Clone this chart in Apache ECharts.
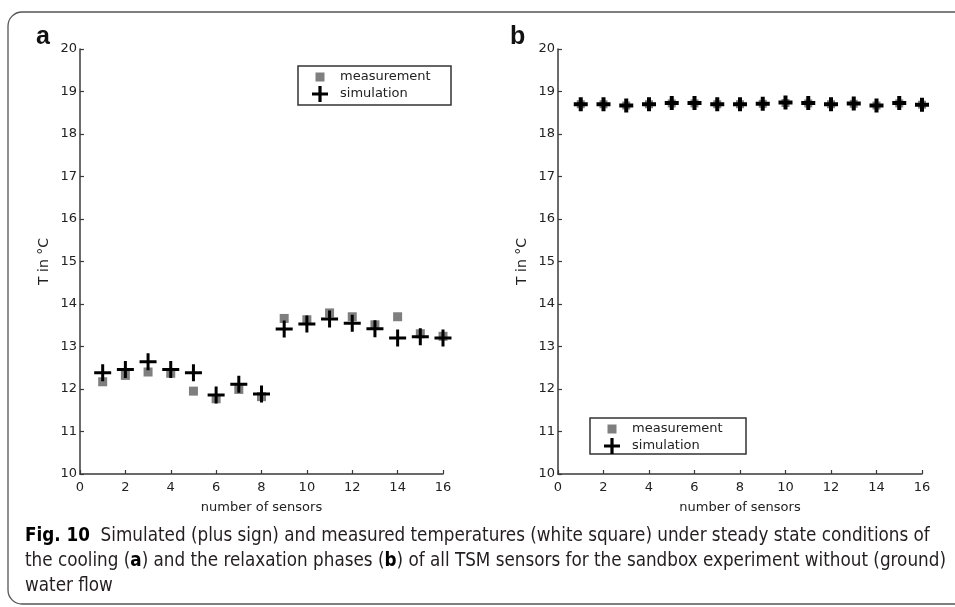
<!DOCTYPE html>
<html>
<head>
<meta charset="utf-8">
<script src="https://cdn.jsdelivr.net/npm/echarts@6/dist/echarts.min.js"></script>
<style>
  html, body { margin: 0; padding: 0; background: #fff; }
  #chart { width: 955px; height: 607px; }
</style>
</head>
<body>
<div id="chart"></div>
<script>
// Sensor numbers along the TSM chain
const sensors = [1, 2, 3, 4, 5, 6, 7, 8, 9, 10, 11, 12, 13, 14, 15, 16];

// (a) cooling phase, steady state temperatures in °C
const coolingMeasured = [12.17, 12.32, 12.40, 12.37, 11.95, 11.77, 11.99, 11.82,
                         13.66, 13.63, 13.79, 13.70, 13.51, 13.70, 13.30, 13.24];
const coolingSimulated = [12.38, 12.46, 12.64, 12.46, 12.38, 11.86, 12.11, 11.88,
                          13.41, 13.53, 13.65, 13.55, 13.42, 13.20, 13.23, 13.20];

// (b) relaxation phase, steady state temperatures in °C
const relaxMeasured = [18.70, 18.70, 18.67, 18.70, 18.72, 18.72, 18.70, 18.70,
                       18.71, 18.73, 18.72, 18.70, 18.71, 18.67, 18.72, 18.69];
const relaxSimulated = [18.70, 18.70, 18.67, 18.70, 18.73, 18.73, 18.70, 18.70,
                        18.71, 18.74, 18.73, 18.70, 18.72, 18.67, 18.73, 18.69];

const yTicks = [10, 11, 12, 13, 14, 15, 16, 17, 18, 19, 20];
const xTicks = [0, 2, 4, 6, 8, 10, 12, 14, 16];

const seriesNames = ['measurement', 'simulation'];
const yAxisTitle = 'T in °C';
const xAxisTitle = 'number of sensors';

const captionLines = [
  '{b|Fig. 10}  Simulated (plus sign) and measured temperatures (white square) under steady state conditions of',
  'the cooling ({b|a}) and the relaxation phases ({b|b}) of all TSM sensors for the sandbox experiment without (ground)',
  'water flow'
];

const PLUS_A = 'path://M7,0H10V7H17V10H10V17H7V10H0V7H7Z';
const PLUS_B = 'path://M5,0H9V5H14V9H9V14H5V9H0V5H5Z';
const AXIS_COLOR = '#3a3a3a';
const MEAS_COLOR = '#7f7f7f';
const TICK_FONT = 'DejaVu Sans';

function pairs(xs, ys) { return xs.map((x, i) => [x, ys[i]]); }

function makeX(idx) {
  return {
    gridIndex: idx, type: 'value', min: xTicks[0], max: xTicks[xTicks.length - 1], interval: 2,
    name: xAxisTitle, nameLocation: 'middle', nameGap: 27,
    nameTextStyle: { fontFamily: TICK_FONT, fontSize: 13, color: '#222' },
    axisLine: { show: true, onZero: false, lineStyle: { color: AXIS_COLOR, width: 1.5 } },
    axisTick: { show: true, inside: true, length: 4, lineStyle: { color: AXIS_COLOR, width: 1.2 } },
    axisLabel: { fontFamily: TICK_FONT, fontSize: 13, color: '#222', margin: 7 },
    splitLine: { show: false }
  };
}
function makeY(idx) {
  return {
    gridIndex: idx, type: 'value', min: yTicks[0], max: yTicks[yTicks.length - 1], interval: 1,
    name: yAxisTitle, nameLocation: 'middle', nameGap: 29, nameRotate: 90,
    nameTextStyle: { fontFamily: TICK_FONT, fontSize: 14, color: '#222' },
    axisLine: { show: true, onZero: false, lineStyle: { color: AXIS_COLOR, width: 1.5 } },
    axisTick: { show: true, inside: true, length: 4, lineStyle: { color: AXIS_COLOR, width: 1.2 } },
    axisLabel: { fontFamily: TICK_FONT, fontSize: 13, color: '#222', margin: 3 },
    splitLine: { show: false }
  };
}

// plus outline as polygon points, arm width t, overall size s, centred at (cx, cy)
function plusPoints(cx, cy, s, t) {
  const a = s / 2, b = t / 2;
  return [[-b, -a], [b, -a], [b, -b], [a, -b], [a, b], [b, b], [b, a], [-b, a],
          [-b, b], [-a, b], [-a, -b], [-b, -b]].map(p => [cx + p[0], cy + p[1]]);
}

// Legend box drawn as a small group of shapes
function legendBox(x, y, w, h) {
  return {
    type: 'group', x: x, y: y,
    children: [
      { type: 'rect', shape: { x: 0, y: 0, width: w, height: h },
        style: { fill: '#fff', stroke: '#333', lineWidth: 1.5 } },
      { type: 'rect', shape: { x: 17.5, y: 6.5, width: 9, height: 9 }, style: { fill: MEAS_COLOR } },
      { type: 'polygon', shape: { points: plusPoints(22, 28, 16, 3.2) }, style: { fill: '#000' } },
      { type: 'text', x: 42, y: 11, style: { text: seriesNames[0], font: '13px "DejaVu Sans"', fill: '#222', verticalAlign: 'middle' } },
      { type: 'text', x: 42, y: 28, style: { text: seriesNames[1], font: '13px "DejaVu Sans"', fill: '#222', verticalAlign: 'middle' } }
    ]
  };
}

const captionFont = '"DejaVu Sans Condensed", "Liberation Sans Narrow", "Noto Sans"';

const option = {
  backgroundColor: '#fff',
  animation: false,
  grid: [
    { left: 80, top: 49, width: 363, height: 425 },
    { left: 558, top: 49, width: 364, height: 425 }
  ],
  xAxis: [makeX(0), makeX(1)],
  yAxis: [makeY(0), makeY(1)],
  series: [
    { name: seriesNames[0], type: 'scatter', xAxisIndex: 0, yAxisIndex: 0,
      symbol: 'rect', symbolSize: 9, itemStyle: { color: MEAS_COLOR, opacity: 1 },
      data: pairs(sensors, coolingMeasured), z: 2 },
    { name: seriesNames[1], type: 'scatter', xAxisIndex: 0, yAxisIndex: 0,
      symbol: PLUS_A, symbolSize: 17, itemStyle: { color: '#000', opacity: 1 },
      data: pairs(sensors, coolingSimulated), z: 3 },
    { name: seriesNames[0], type: 'scatter', xAxisIndex: 1, yAxisIndex: 1,
      symbol: 'rect', symbolSize: 8, itemStyle: { color: MEAS_COLOR, opacity: 1 },
      data: pairs(sensors, relaxMeasured), z: 2 },
    { name: seriesNames[1], type: 'scatter', xAxisIndex: 1, yAxisIndex: 1,
      symbol: PLUS_B, symbolSize: 14, itemStyle: { color: '#000', opacity: 1 },
      data: pairs(sensors, relaxSimulated), z: 3 }
  ],
  graphic: [
    // outer frame with rounded corners
    { type: 'rect', shape: { x: 8, y: 12, width: 970, height: 592, r: 14 },
      style: { fill: null, stroke: '#555', lineWidth: 1.3 }, z: 0 },
    { type: 'text', x: 36, y: 25, style: { text: 'a', font: 'bold 25px "Liberation Sans"', fill: '#111' } },
    { type: 'text', x: 510, y: 25, style: { text: 'b', font: 'bold 25px "Liberation Sans"', fill: '#111' } },
    legendBox(298, 66, 153, 39),
    legendBox(590, 418, 156, 36),
    ...captionLines.map((line, i) => ({
      type: 'text', x: 25, y: 527 + i * 25,
      style: {
        text: line,
        font: '18.7px ' + captionFont,
        fill: '#231f20',
        rich: {
          b: { fontWeight: 'bold', fontFamily: captionFont, fontSize: 18.7, fill: '#000' }
        }
      }
    }))
  ]
};

const chart = echarts.init(document.getElementById('chart'), null, { renderer: 'canvas' });
chart.setOption(option);
</script>
</body>
</html>
